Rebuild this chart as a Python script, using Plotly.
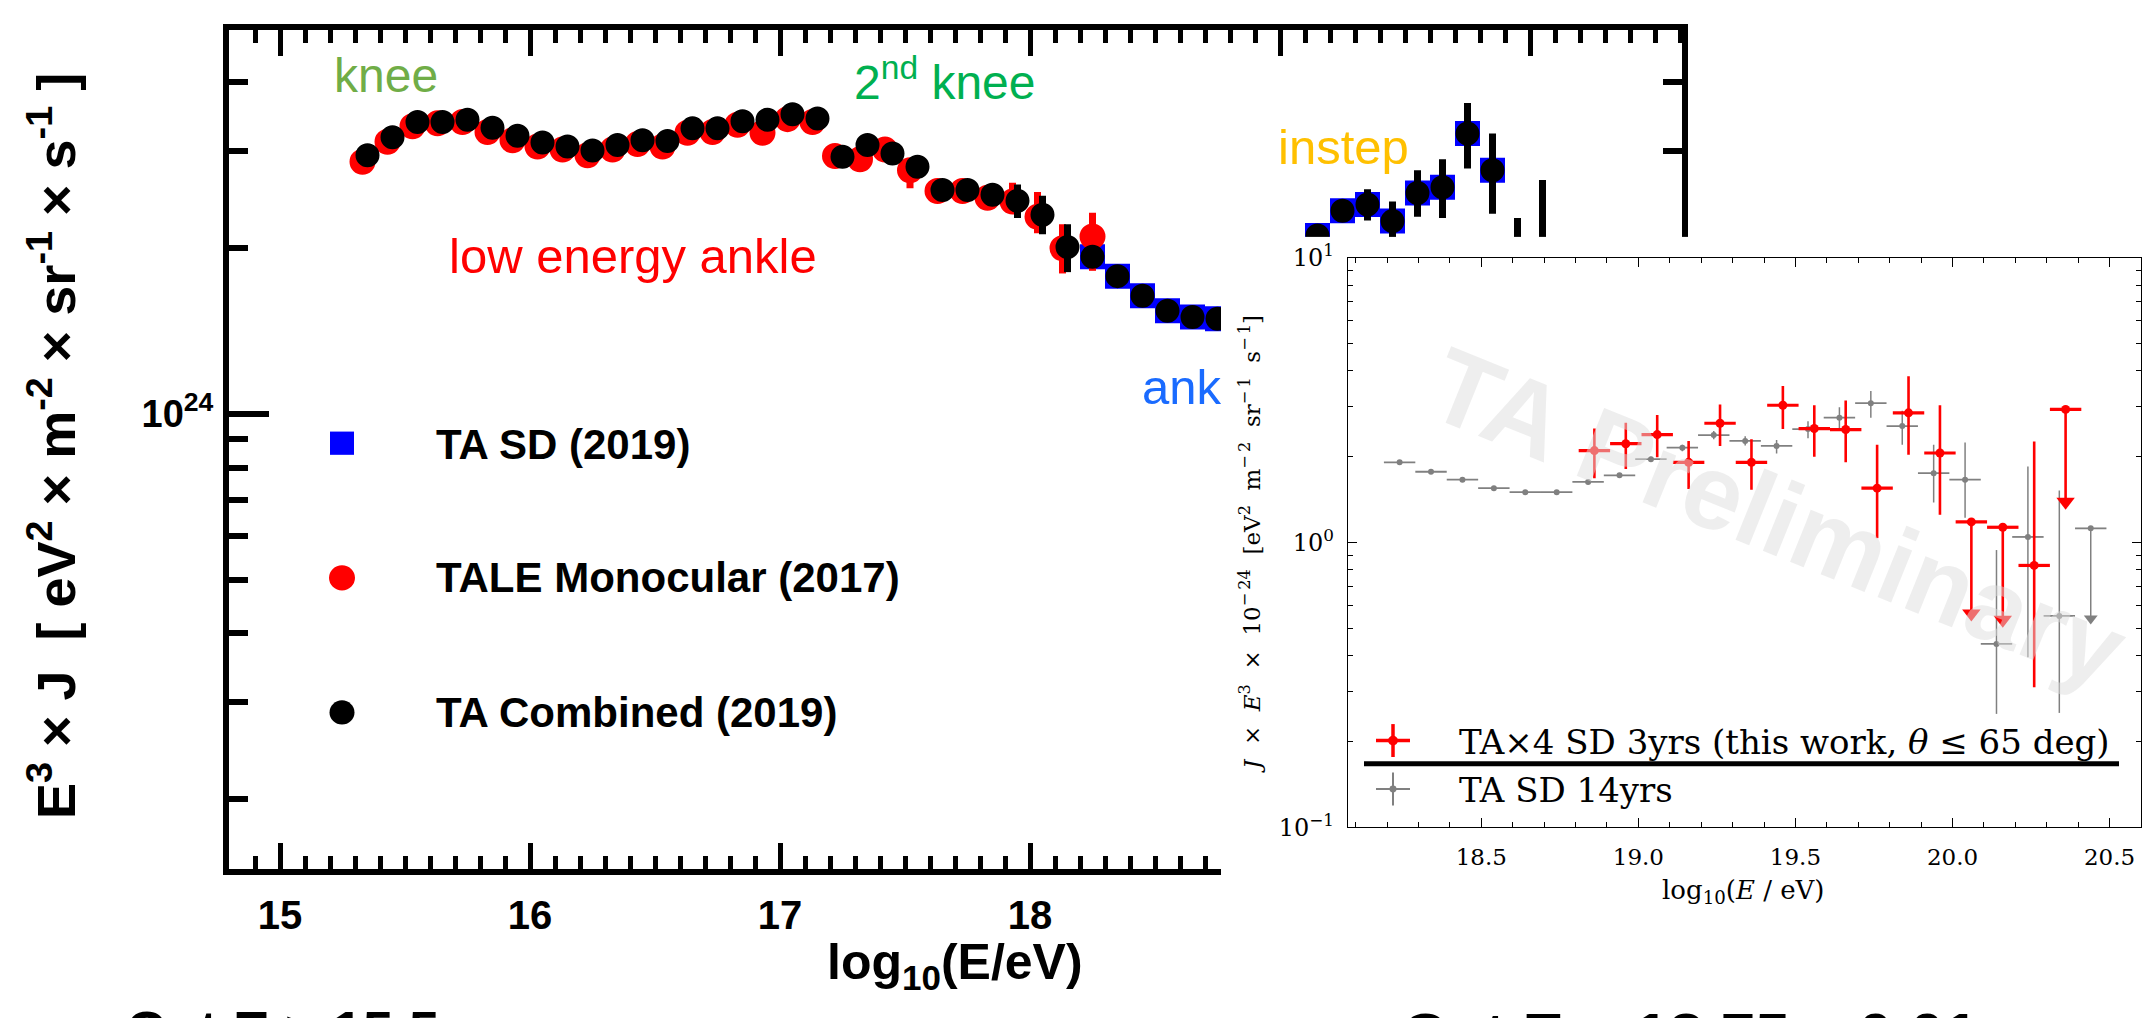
import plotly.graph_objects as go

W, H = 2152, 1018


def px(v):
    return v / W


def py(v):
    return 1 - v / H


SANS = "Liberation Sans, Arial, Helvetica, sans-serif"
SERIF = "DejaVu Serif, Liberation Serif, serif"

# ---------------- left panel data (E^3 J in units of 1e24 eV^2 m^-2 sr^-1 s^-1) ----------------
comb_x = [15.35, 15.45, 15.55, 15.65, 15.75, 15.85, 15.95, 16.05, 16.15, 16.25, 16.35, 16.45,
          16.55, 16.65, 16.75, 16.85, 16.95, 17.05, 17.15, 17.25, 17.35, 17.45, 17.55, 17.65,
          17.75, 17.85, 17.95, 18.05, 18.15, 18.25, 18.35, 18.45, 18.55, 18.65, 18.75, 19.15,
          19.25, 19.35, 19.45, 19.55, 19.65, 19.75, 19.85, 19.95, 20.05]
comb_y = [2.95, 3.18, 3.39, 3.39, 3.42, 3.31, 3.20, 3.11, 3.06, 3.01, 3.08, 3.14,
          3.13, 3.30, 3.30, 3.40, 3.42, 3.50, 3.44, 2.93, 3.08, 2.97, 2.81, 2.55,
          2.55, 2.50, 2.44, 2.30, 2.01, 1.93, 1.78, 1.64, 1.54, 1.50, 1.49, 2.11,
          2.34, 2.40, 2.24, 2.52, 2.58, 3.23, 2.77, 1.74, 1.86]
comb_ep = [0] * 26 + [0.17, 0.19, 0.20, 0.05, 0.04, 0.04, 0.04, 0.04, 0.04, 0.06,
                      0.08, 0.16, 0.19, 0.25, 0.32, 0.44, 0.46, 0.53, 0.80]
comb_em = [0] * 26 + [0.17, 0.18, 0.20, 0.04, 0.04, 0.04, 0.04, 0.04, 0.04, 0.06,
                      0.08, 0.155, 0.18, 0.24, 0.31, 0.44, 0.46, 0.50, 0.70]

tale_x = [15.33, 15.43, 15.53, 15.63, 15.73, 15.83, 15.93, 16.03, 16.13, 16.23, 16.33, 16.43,
          16.53, 16.63, 16.73, 16.83, 16.93, 17.03, 17.13, 17.22, 17.32, 17.42, 17.52, 17.63,
          17.73, 17.83, 17.93, 18.03, 18.13, 18.25]
tale_y = [2.87, 3.12, 3.33, 3.37, 3.39, 3.25, 3.14, 3.06, 3.02, 2.95, 3.02, 3.09,
          3.06, 3.24, 3.25, 3.35, 3.24, 3.43, 3.39, 2.94, 2.90, 3.02, 2.77, 2.54,
          2.54, 2.47, 2.43, 2.28, 2.00, 2.10]
tale_ep = [0] * 22 + [0.05, 0, 0, 0.03, 0.20, 0.25, 0.21, 0.22]
tale_em = [0] * 22 + [0.20, 0, 0, 0.12, 0.08, 0.15, 0.20, 0.28]

sd_x = [18.25, 18.35, 18.45, 18.55, 18.65, 18.75, 19.15, 19.25, 19.35, 19.45, 19.55, 19.65,
        19.75, 19.85, 19.95, 20.05]
sd_y = [1.93, 1.78, 1.64, 1.54, 1.50, 1.49, 2.11, 2.34, 2.40, 2.24, 2.52, 2.58,
        3.23, 2.77, 1.74, 1.86]

left_series = ["TA SD (2019)", "TALE Monocular (2017)", "TA Combined (2019)"]

x_ticks_left = [15, 16, 17, 18, 19, 20]
x_ticktext_left = ["15", "16", "17", "18", "19", "20"]

# ---------------- inset data (J x E^3 x 1e-24) ----------------
sd14_x = [18.24, 18.34, 18.44, 18.54, 18.64, 18.74, 18.84, 18.94, 19.04, 19.14, 19.24, 19.34,
          19.44, 19.54, 19.64, 19.74, 19.84, 19.94, 20.04, 20.14, 20.24, 20.34, 20.44]
sd14_y = [1.91, 1.77, 1.66, 1.55, 1.50, 1.50, 1.63, 1.72, 1.96, 2.15, 2.38, 2.27,
          2.18, 2.50, 2.74, 3.08, 2.56, 1.75, 1.66, 0.44, 1.045, 0.552, 1.12]
sd14_ep = [0.02, 0.02, 0.02, 0.02, 0.02, 0.02, 0.03, 0.03, 0.04, 0.05, 0.08, 0.09,
           0.11, 0.16, 0.24, 0.32, 0.34, 0.45, 0.58, 0.50, 0.80, 0.97, 0.0]
sd14_em = [0.02, 0.02, 0.02, 0.02, 0.02, 0.02, 0.03, 0.03, 0.04, 0.06, 0.08, 0.08,
           0.13, 0.18, 0.24, 0.34, 0.36, 0.37, 0.44, 0.19, 0.65, 0.30, 0.58]
sd14_ul_x = [20.44]
sd14_ul_y = [0.54]

x4_x = [18.86, 18.96, 19.06, 19.16, 19.26, 19.36, 19.46, 19.56, 19.66, 19.76, 19.86, 19.96,
        20.06, 20.16, 20.26, 20.36]
x4_y = [2.10, 2.22, 2.39, 1.91, 2.62, 1.91, 3.03, 2.51, 2.49, 1.55, 2.85, 2.06,
        1.18, 1.13, 0.83, 2.93]
x4_ep = [0.41, 0.41, 0.41, 0.36, 0.43, 0.39, 0.51, 0.52, 0.66, 0.65, 0.98, 0.97,
         0.0, 0.0, 1.43, 0.0]
x4_em = [0.42, 0.41, 0.40, 0.37, 0.44, 0.38, 0.53, 0.51, 0.58, 0.515, 0.82, 0.81,
         0.617, 0.595, 0.52, 1.54]
x4_ul_x = [20.06, 20.16, 20.36]
x4_ul_y = [0.563, 0.535, 1.39]
bin_half = 0.05

inset_series = ["TA\u00d74 SD 3yrs (this work, <i>\u03b8</i> \u2264 65 deg)", "TA SD 14yrs"]

x_ticks_inset = [18.5, 19.0, 19.5, 20.0, 20.5]
x_ticktext_inset = ["18.5", "19.0", "19.5", "20.0", "20.5"]

SC = 1e24

fig = go.Figure()

# ---------------- left panel traces ----------------
fig.add_trace(go.Scatter(
    x=sd_x, y=[v * SC for v in sd_y], mode="markers", name=left_series[0],
    xaxis="x", yaxis="y", hoverinfo="skip",
    marker=dict(symbol="square", size=20, color="#0000ff", line=dict(width=5, color="#0000ff"))))
fig.add_trace(go.Scatter(
    x=tale_x, y=[v * SC for v in tale_y], mode="markers", name=left_series[1],
    xaxis="x", yaxis="y", hoverinfo="skip",
    error_y=dict(type="data", symmetric=False, array=[e * SC for e in tale_ep],
                 arrayminus=[e * SC for e in tale_em], thickness=7, width=0, color="#ff0000"),
    marker=dict(symbol="circle", size=21, color="#ff0000", line=dict(width=5, color="#ff0000"))))
fig.add_trace(go.Scatter(
    x=comb_x, y=[v * SC for v in comb_y], mode="markers", name=left_series[2],
    xaxis="x", yaxis="y", hoverinfo="skip",
    error_y=dict(type="data", symmetric=False, array=[e * SC for e in comb_ep],
                 arrayminus=[e * SC for e in comb_em], thickness=7, width=0, color="#000000"),
    marker=dict(symbol="circle", size=19, color="#000000", line=dict(width=5, color="#000000"))))

# white backing box of the inset figure
fig.add_trace(go.Scatter(x=[None], y=[None], xaxis="x2", yaxis="y2", showlegend=False,
                         hoverinfo="skip", mode="markers"))

# ---------------- inset traces ----------------
fig.add_trace(go.Scatter(
    x=sd14_x, y=sd14_y, mode="markers", name=inset_series[1], xaxis="x3", yaxis="y3",
    hoverinfo="skip",
    error_x=dict(type="constant", value=bin_half, thickness=1.8, width=0, color="#808080"),
    error_y=dict(type="data", symmetric=False, array=sd14_ep, arrayminus=sd14_em,
                 thickness=1.5, width=0, color="#808080"),
    marker=dict(size=6, color="#808080")))
fig.add_trace(go.Scatter(
    x=sd14_ul_x, y=sd14_ul_y, mode="markers", xaxis="x3", yaxis="y3",
    hoverinfo="skip", marker=dict(symbol="triangle-down", size=12, color="#808080")))
fig.add_trace(go.Scatter(
    x=x4_x, y=x4_y, mode="markers", name=inset_series[0], xaxis="x3", yaxis="y3",
    hoverinfo="skip",
    error_x=dict(type="constant", value=bin_half, thickness=3.2, width=0, color="#ff0000"),
    error_y=dict(type="data", symmetric=False, array=x4_ep, arrayminus=x4_em,
                 thickness=2.6, width=0, color="#ff0000"),
    marker=dict(size=9, color="#ff0000")))
fig.add_trace(go.Scatter(
    x=x4_ul_x, y=x4_ul_y, mode="markers", xaxis="x3", yaxis="y3",
    hoverinfo="skip", marker=dict(symbol="triangle-down", size=16, color="#ff0000")))

# ---------------- annotations ----------------
ann = []


def add_text(text, x, y, size, color="black", family=SANS, xanchor="center", yanchor="middle",
             angle=0, weight="normal"):
    ann.append(dict(text=text, x=px(x), y=py(y), xref="paper", yref="paper", showarrow=False,
                    xanchor=xanchor, yanchor=yanchor, textangle=angle,
                    font=dict(family=family, size=size, color=color, weight=weight)))


NB = "\u00a0"

# left panel titles
add_text("E<sup>3</sup> \u00d7 J" + NB * 2 + "[ eV<sup>2</sup> \u00d7 m<sup>-2</sup> \u00d7 sr<sup>-1</sup>"
         " \u00d7 s<sup>-1</sup> ]", 52, 442, 54, angle=-90, weight="bold")
add_text("log<sub>10</sub>(E/eV)", 955, 978, 50, weight="bold")

# left legend (text part)
for label, yc in zip(left_series, [440, 578, 717]):
    add_text(label, 434, yc, 42, xanchor="left", weight="bold")

# feature labels
add_text("knee", 386, 59, 48, color="#70AD47")
add_text("2<sup>nd</sup> knee", 944, 63, 48, color="#00B050")
add_text("low energy ankle", 633, 246, 49, color="#FF0000")
add_text("ank", 1140, 381, 49, color="#1A6BFF", xanchor="left")
add_text("instep", 1343, 133, 49, color="#FFC000")

# inset texts
add_text("<i>J</i>" + NB * 2 + "\u00d7" + NB * 2 + "<i>E</i><sup>3</sup>" + NB * 2 + "\u00d7" + NB * 2 +
         "10<sup>\u2212\u200924</sup>" + NB * 2 + "[eV<sup>2</sup>" + NB * 2 +
         "m<sup>\u2212\u20092</sup>" + NB * 2 + "sr<sup>\u2212\u20091</sup>" + NB * 2 +
         "s<sup>\u2212\u20091</sup>]", 1250, 543, 23, family=SERIF, angle=-90)
add_text("log<sub>10</sub>(<i>E</i> / eV)", 1743, 902, 26, family=SERIF)
add_text(inset_series[0], 1457, 747, 34, family=SERIF, xanchor="left")
add_text(inset_series[1], 1457, 797, 34, family=SERIF, xanchor="left")

# watermark
add_text("TA Preliminary", 1778, 515, 106, color="rgba(221,221,221,0.5)", angle=22, weight="bold")

# clipped slide text at the bottom
add_text("Cut E > 15.5", 124, 1046, 55, xanchor="left", weight="bold")
add_text("Cut E > 18.75 \u00b1 0.01", 1400, 1049, 62, xanchor="left", weight="bold")


def P(x0, y0, x1, y1):
    return dict(xref="paper", yref="paper", x0=px(x0), x1=px(x1), y0=py(y0), y1=py(y1))


# ---------------- shapes (legend symbols) ----------------
shapes = [
    # left legend symbols
    dict(type="rect", **P(330, 451, 354, 427), fillcolor="#0000ff", line=dict(width=0)),
    dict(type="circle", **P(329, 591, 355, 565), fillcolor="#ff0000", line=dict(width=0)),
    dict(type="circle", **P(329.5, 729.5, 354.5, 704.5), fillcolor="#000000", line=dict(width=0)),
    # inset legend
    dict(type="line", **P(1364, 770, 2119, 770), line=dict(color="black", width=5)),
    dict(type="line", **P(1376, 746, 1410, 746), line=dict(color="#ff0000", width=3.5)),
    dict(type="line", **P(1393, 729, 1393, 763), line=dict(color="#ff0000", width=3.5)),
    dict(type="circle", **P(1388, 751, 1398, 741), fillcolor="#ff0000", line=dict(width=0)),
    dict(type="line", **P(1376, 796, 1410, 796), line=dict(color="#808080", width=2)),
    dict(type="line", **P(1393, 779, 1393, 813), line=dict(color="#808080", width=2)),
    dict(type="circle", **P(1389.5, 799.5, 1396.5, 792.5), fillcolor="#808080", line=dict(width=0)),
]

minor_left_y = [2e23, 3e23, 4e23, 5e23, 6e23, 7e23, 8e23, 9e23, 2e24, 3e24, 4e24]
minor_inset_y = [0.2, 0.3, 0.4, 0.5, 0.6, 0.7, 0.8, 0.9, 2, 3, 4, 5, 6, 7, 8, 9]

fig.update_layout(
    width=W, height=H, autosize=False,
    margin=dict(l=0, r=0, t=0, b=0, pad=0),
    paper_bgcolor="white", plot_bgcolor="white",
    showlegend=False,
    xaxis=dict(domain=[px(229), px(1682)], range=[14.796, 20.608], anchor="y",
               showline=True, linewidth=6, linecolor="black", mirror="allticks",
               ticks="inside", ticklen=26, tickwidth=5, tickcolor="black",
               tickmode="array", tickvals=x_ticks_left, ticktext=x_ticktext_left,
               tickfont=dict(family=SANS, size=40, color="black", weight="bold"),
               ticklabelstandoff=6,
               minor=dict(ticks="inside", ticklen=13, tickwidth=5, tickcolor="black",
                          dtick=0.1, tick0=15, showgrid=False),
               showgrid=False, zeroline=False),
    yaxis=dict(type="log", domain=[py(879), py(12)], range=[23.174, 24.6977], anchor="x",
               showline=True, linewidth=6, linecolor="black", mirror="allticks",
               ticks="inside", ticklen=40, tickwidth=6, tickcolor="black",
               tickmode="array", tickvals=[1e24], ticktext=["10<sup>24</sup>"],
               tickfont=dict(family=SANS, size=38, color="black", weight="bold"),
               ticklabelstandoff=2,
               minor=dict(ticks="inside", ticklen=19, tickwidth=6, tickcolor="black",
                          tickmode="array", tickvals=minor_left_y, showgrid=False),
               showgrid=False, zeroline=False),
    xaxis2=dict(domain=[px(1221), 1.0], range=[0, 1], anchor="y2", visible=False),
    yaxis2=dict(domain=[0.0, py(226)], range=[0, 1], anchor="x2", visible=False),
    xaxis3=dict(domain=[px(1348), px(2141)], range=[18.0757, 20.6], anchor="y3",
                showline=True, linewidth=1.3, linecolor="black", mirror="allticks",
                ticks="inside", ticklen=9, tickwidth=1.2, tickcolor="black",
                tickmode="array", tickvals=x_ticks_inset, ticktext=x_ticktext_inset,
                tickfont=dict(family=SERIF, size=23, color="black"),
                ticklabelstandoff=9,
                minor=dict(ticks="inside", ticklen=5, tickwidth=1, tickcolor="black",
                           dtick=0.1, tick0=18.5, showgrid=False),
                showgrid=False, zeroline=False),
    yaxis3=dict(type="log", domain=[py(835.5), py(247.3)], range=[-1, 1], anchor="x3",
                showline=True, linewidth=1.3, linecolor="black", mirror="allticks",
                ticks="inside", ticklen=9, tickwidth=1.2, tickcolor="black",
                tickmode="array", tickvals=[0.1, 1, 10],
                ticktext=["10<sup>\u22121</sup>", "10<sup>0</sup>", "10<sup>1</sup>"],
                tickfont=dict(family=SERIF, size=24, color="black"),
                ticklabelstandoff=8,
                minor=dict(ticks="inside", ticklen=5, tickwidth=1, tickcolor="black",
                           tickmode="array", tickvals=minor_inset_y, showgrid=False),
                showgrid=False, zeroline=False),
    annotations=ann,
    shapes=shapes,
)

fig.write_html("out.html")
